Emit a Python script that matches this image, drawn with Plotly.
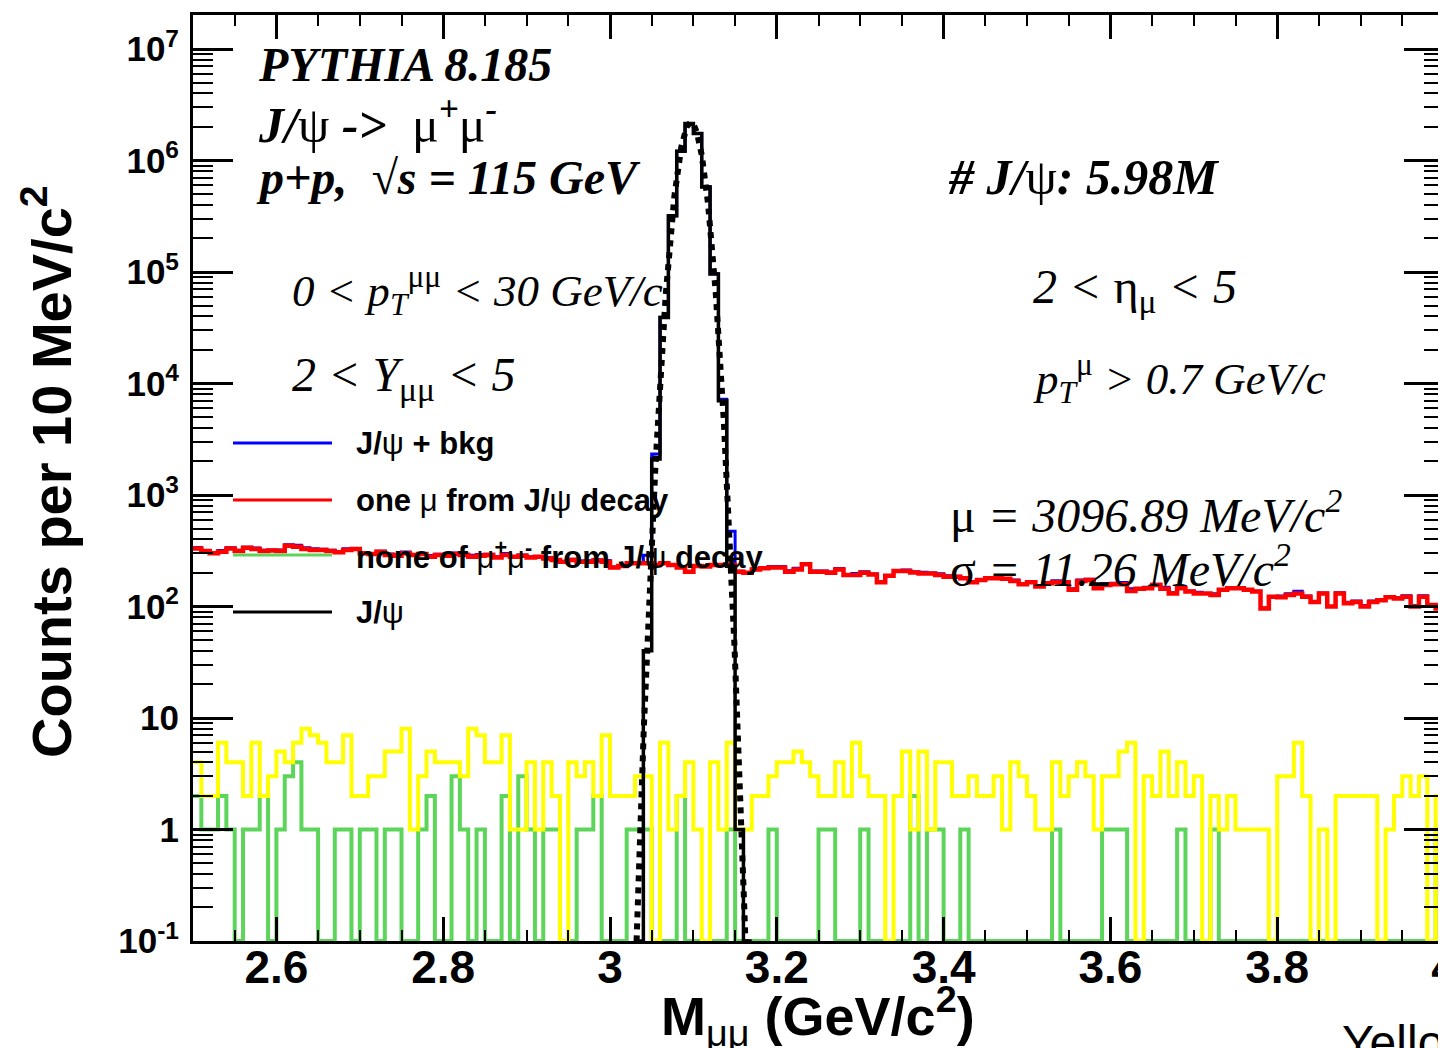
import numpy as np
import plotly.graph_objects as go

# ---------------- data (counts per 10 MeV/c^2 bin, 2.5 - 4.0 GeV/c^2) ----------------
x_start = 2.5
bin_width = 0.01

red_one_mu = [332, 315, 300, 310, 332, 315, 337, 328, 315, 318, 315, 351, 344, 328, 321, 321, 315, 306, 321, 328,
              300, 295, 310, 290, 285, 300, 290, 295, 280, 290, 285, 295, 290, 280, 285, 290, 275, 290, 280, 285, 275,
              280, 270, 261, 252, 261, 252, 252, 258, 252, 224, 231, 244, 244, 244, 236, 244, 236, 224, 205, 231,
              228, 236, 236, 236, 205, 201, 215, 220, 224, 224, 205, 215, 239, 205, 205, 201, 215, 192, 192, 201,
              194, 165, 189, 208, 208, 202, 198, 198, 192, 185, 185, 179, 165, 173, 179, 179, 177, 169, 158, 165,
              151, 162, 165, 165, 141, 169, 173, 146, 156, 158, 158, 138, 144, 146, 156, 144, 131, 146, 136, 131,
              131, 127, 141, 146, 146, 141, 136, 96, 122, 121, 127, 131, 122, 110, 131, 100, 131, 107, 110, 100,
              110, 114, 121, 118, 122, 100, 122, 103, 96]

green_none = [2, 1, 1, 2, 1, 0, 1, 1, 2, 0, 1, 3, 4, 1, 1, 0, 0, 1, 1, 0,
              1, 1, 0, 1, 1, 0, 0, 1, 2, 0, 0, 3, 1, 0, 1, 0, 0, 2, 0, 3,
              1, 0, 1, 1, 0, 0, 1, 1, 2, 0, 0, 0, 1, 1, 1, 0, 0, 0, 2, 0,
              0, 0, 0, 0, 1, 0, 0, 0, 0, 1, 0, 0, 0, 0, 0, 1, 1, 0, 0, 0,
              1, 0, 0, 0, 0, 0, 2, 0, 1, 1, 0, 0, 1, 0, 0, 0, 0, 0, 0, 0,
              0, 0, 0, 1, 0, 0, 0, 0, 0, 1, 1, 1, 0, 0, 0, 0, 0, 0, 1, 0,
              0, 0, 1, 0, 0, 0, 0, 0, 0, 0, 0, 0, 0, 0, 0, 0, 0, 0, 0, 0,
              0, 0, 0, 0, 0, 0, 0, 0, 0, 1]

yellow_other = [4, 2, 2, 6, 4, 4, 2, 6, 2, 3, 5, 4, 6, 8, 7, 6, 4, 4, 7, 2,
                2, 3, 3, 5, 5, 8, 1, 3, 5, 4, 4, 4, 3, 8, 7, 4, 4, 7, 1, 1,
                4, 1, 4, 2, 0, 4, 3, 4, 2, 7, 2, 2, 2, 3, 3, 0, 6, 1, 2, 4,
                1, 0, 4, 1, 6, 1, 1, 2, 2, 3, 4, 4, 5, 4, 3, 2, 2, 4, 2, 6,
                3, 2, 2, 0, 2, 5, 1, 5, 1, 4, 4, 2, 2, 3, 2, 2, 3, 1, 4, 3,
                2, 1, 1, 4, 2, 3, 4, 3, 1, 3, 3, 5, 6, 0, 3, 2, 5, 2, 4, 2,
                3, 0, 2, 1, 2, 1, 1, 1, 1, 0, 3, 3, 6, 2, 0, 1, 0, 2, 2, 2,
                2, 2, 0, 1, 2, 3, 2, 3, 0, 2]

jpsi_bins_first = 53
jpsi_signal = [0, 40, 2100, 39000, 320000, 1210000, 2150000, 1750000, 580000, 96000, 7000, 230, 1, 0]

fit_mu = 3.09689
fit_sigma = 0.01126
fit_amp = 2.2e6

x_tick_vals = [2.6, 2.8, 3.0, 3.2, 3.4, 3.6, 3.8, 4.0]
x_tick_text = ["2.6", "2.8", "3", "3.2", "3.4", "3.6", "3.8", "4"]
y_tick_vals = [1e-1, 1, 10, 1e2, 1e3, 1e4, 1e5, 1e6, 1e7]
y_tick_text = ["10<sup>-1</sup>", "1", "10", "10<sup>2</sup>", "10<sup>3</sup>", "10<sup>4</sup>",
               "10<sup>5</sup>", "10<sup>6</sup>", "10<sup>7</sup>"]

# ---------------- build ----------------
n = len(red_one_mu)
edges = x_start + bin_width * np.arange(n + 1)
y_floor = 0.1

red = np.array(red_one_mu, float)
green = np.array(green_none, float)
yellow = np.array(yellow_other, float)
jpsi = np.zeros(n)
jpsi[jpsi_bins_first:jpsi_bins_first + len(jpsi_signal)] = jpsi_signal
blue = red + green + yellow + jpsi


def step(vals, lo=0, hi=None):
    hi = n if hi is None else hi
    v = np.maximum(np.asarray(vals, float)[lo:hi], y_floor)
    xs = edges[lo:hi + 1]
    ys = np.append(v, v[-1])
    return xs, ys


fig = go.Figure()


def add_hist(vals, color, width, lo=0, hi=None):
    xs, ys = step(vals, lo, hi)
    fig.add_trace(go.Scatter(x=xs, y=ys, mode="lines", line=dict(color=color, width=width, shape="hv"),
                             hoverinfo="skip", showlegend=False))


add_hist(blue, "#0000ff", 3)
add_hist(red, "#ff0000", 4.5)
add_hist(green, "#5dd55a", 4)
add_hist(yellow, "#ffff00", 4)
add_hist(jpsi, "#000000", 3.5, jpsi_bins_first, jpsi_bins_first + len(jpsi_signal))

xf = np.linspace(3.025, 3.17, 500)
yf = fit_amp * np.exp(-0.5 * ((xf - fit_mu) / fit_sigma) ** 2)
fig.add_trace(go.Scatter(x=xf, y=yf, mode="lines", line=dict(color="black", width=6, dash="dot"),
                         hoverinfo="skip", showlegend=False))

minor_y = [k * 10.0 ** d for d in range(-1, 8) for k in range(2, 10) if k * 10.0 ** d < 2.1e7]

fig.update_xaxes(range=[2.5, 4.0], showline=True, linewidth=3, linecolor="black", mirror="ticks",
                 ticks="inside", ticklen=24, tickwidth=3, tickcolor="black",
                 tickmode="array", tickvals=x_tick_vals, ticktext=x_tick_text,
                 tickfont=dict(family="Liberation Sans", size=46, color="black", weight="bold"),
                 ticklabelstandoff=-16, ticklabeloverflow="allow",
                 minor=dict(ticks="inside", dtick=0.05, tick0=2.5, ticklen=11, tickwidth=2, tickcolor="black"),
                 showgrid=False, zeroline=False, automargin=False)
fig.update_yaxes(type="log", range=[-1, 7.305], showline=True, linewidth=3, linecolor="black", mirror="ticks",
                 ticks="inside", ticklen=40, tickwidth=3, tickcolor="black",
                 tickmode="array", tickvals=y_tick_vals, ticktext=y_tick_text,
                 tickfont=dict(family="Liberation Sans", size=35, color="black", weight="bold"),
                 ticklabelstandoff=4,
                 minor=dict(ticks="inside", tickmode="array", tickvals=minor_y, ticklen=20, tickwidth=2,
                            tickcolor="black"),
                 showgrid=False, zeroline=False, automargin=False)

# plot frame in reference pixels; the page body adds an 8 px offset
OFF = 8
W0, W1, H0, H1 = 193, 1444, 15, 941


def px(x):
    return (x - W0) / (W1 - W0)


def py(y):
    return (H1 - y) / (H1 - H0)


G = '<span style="font-style:normal;font-weight:normal">%s</span>'
mu, psi, eta, sig = G % "μ", G % "ψ", G % "η", G % "σ"

serif_bi = dict(family="Liberation Serif", size=48, color="black", weight="bold", style="italic")
serif_bi2 = dict(family="Liberation Serif", size=50, color="black", weight="bold", style="italic")
serif_i = dict(family="Liberation Serif", size=45, color="black", style="italic")
serif_i2 = dict(family="Liberation Serif", size=48, color="black", style="italic")
ann = []


def text(x, y, s, font, xanchor="left", **kw):
    ann.append(dict(x=px(x), y=py(y), xref="paper", yref="paper", text=s, showarrow=False,
                    xanchor=xanchor, yanchor="middle", font=font, **kw))


text(256, 65, "PYTHIA 8.185", serif_bi)
text(256, 121, "J/" + psi + " -> &nbsp;" + mu + "<sup>+</sup>" + mu + "<sup>-</sup>", serif_bi2)
text(254, 177, "p+p, &nbsp;√s = 115 GeV", serif_bi)
text(946, 177, "# J/" + psi + ": 5.98M", serif_bi2)
text(290, 290, "0 < p<sub>T</sub><sup>" + mu + mu + "</sup> < 30 GeV/c", serif_i)
text(290, 378, "2 < Y<sub>" + mu + mu + "</sub> < 5", serif_i2)
text(1031, 290, "2 < " + eta + "<sub>" + mu + "</sub> < 5", serif_i2)
text(1031, 378, "p<sub>T</sub><sup>" + mu + "</sup> > 0.7 GeV/c", serif_i)
text(948, 512, mu + " = 3096.89 MeV/c<sup>2</sup>", serif_i2)
text(948, 566, sig + " = 11.26 MeV/c<sup>2</sup>", serif_i2)

leg_font = dict(family="Liberation Sans", size=31, color="black", weight="bold")
legend_items = [("J/" + psi + " + bkg", "#0000ff", 443),
                ("one " + mu + " from J/" + psi + " decay", "#ff0000", 500),
                ("none of " + mu + "<sup>+</sup>" + mu + "<sup>-</sup> from J/" + psi + " decay", "#5dd55a", 555),
                ("J/" + psi, "#000000", 612)]
shapes = []
for label, col, yy in legend_items:
    shapes.append(dict(type="line", xref="paper", yref="paper", x0=px(233), x1=px(332), y0=py(yy), y1=py(yy),
                       line=dict(color=col, width=3)))
    text(354, yy, label, leg_font)

text(48, 472, "Counts per 10 MeV/c<sup>2</sup>", dict(family="Liberation Sans", size=56, color="black",
                                                      weight="bold"), xanchor="center", textangle=-90)
text(818, 1016, "M<sub>" + mu + mu + "</sub> (GeV/c<sup>2</sup>)",
     dict(family="Liberation Sans", size=54, color="black", weight="bold"), xanchor="center")
text(1340, 1042, "Yellow", dict(family="Liberation Sans", size=48, color="black"))

fig.update_layout(width=1446, height=1048,
                  margin=dict(l=W0 - OFF, r=1446 - (W1 - OFF), t=H0 - OFF, b=1048 - (H1 - OFF)),
                  paper_bgcolor="white", plot_bgcolor="white", showlegend=False,
                  annotations=ann, shapes=shapes)

fig.write_html("out.html")
